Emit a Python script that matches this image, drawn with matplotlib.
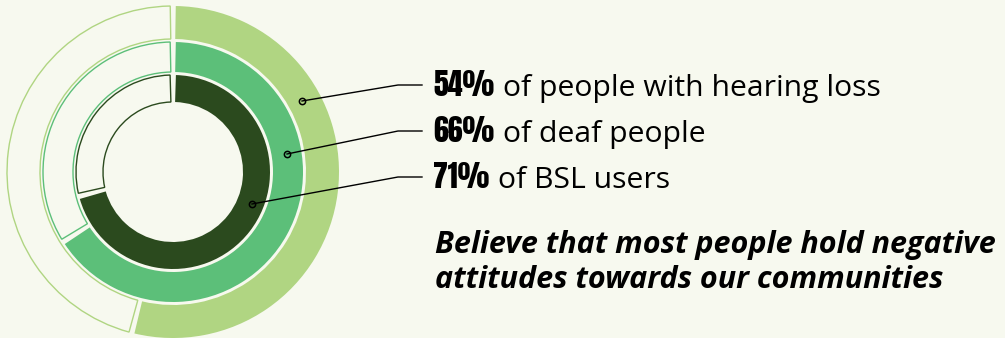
import numpy as np
import matplotlib.pyplot as plt

# ring values (percent agreeing), outer -> inner
groups = ["of people with hearing loss", "of deaf people", "of BSL users"]
percents = [54, 66, 71]
ring_colors = ["#b0d582", "#5cbf79", "#2b4a1e"]
caption_lines = ["Believe that most people hold negative",
                 "attitudes towards our communities"]

BG = "#f7f9ef"
CX, CY = 173, 172            # ring centre (pixels, y down)
radii = [166, 130, 97]
widths = [33, 30, 27]
dots = [(302, 101), (287, 154), (252, 204)]
text_y = [96, 142, 188]      # baselines
caption_y = [253, 288]


def main():
    fig = plt.figure(figsize=(10.05, 3.38), dpi=100, facecolor=BG)
    ax = fig.add_axes([0, 0, 1, 1])
    ax.set_facecolor(BG)

    for pct, col, r, w in zip(percents, ring_colors, radii, widths):
        wedges, _ = ax.pie([pct, 100 - pct], radius=r, center=(CX, CY),
                           startangle=270, counterclock=True,
                           wedgeprops=dict(width=w, linewidth=0))
        gap = np.degrees(2.5 / (r - w / 2))
        filled, empty = wedges
        filled.set_facecolor(col)
        filled.set_theta1(filled.theta1 + gap)
        filled.set_theta2(filled.theta2 - gap)
        empty.set_facecolor("none")
        empty.set_edgecolor(col)
        empty.set_linewidth(1.0)
        empty.set_theta1(empty.theta1 + gap)
        empty.set_theta2(empty.theta2 - gap)

    ax.set_xlim(0, 1005)
    ax.set_ylim(338, 0)
    ax.set_aspect("auto")
    ax.axis("off")

    # leader lines
    for (dx, dy), ty in zip(dots, text_y):
        ly = ty - 11
        ax.plot([dx, 398, 422], [dy, ly, ly], color="black", lw=1.0, zorder=5)
        ax.plot(dx, dy, "o", ms=4.5, mfc="none", mec="black", mew=1.1, zorder=6)

    fig.canvas.draw()
    for pct, label, ty in zip(percents, groups, text_y):
        t = ax.text(433, ty, f"{pct}%", fontsize=21.5, family="Anton",
                    va="baseline", ha="left", color="black")
        fig.canvas.draw()
        bb = t.get_window_extent()
        ax.text(bb.x1 + 9, ty, label, fontsize=21.7, family="Open Sans",
                va="baseline", ha="left", color="black")

    for line, cy in zip(caption_lines, caption_y):
        ax.text(435, cy, line, fontsize=22, family="Open Sans",
                fontweight="bold", fontstyle="italic", va="baseline",
                ha="left", color="black")

    fig.savefig("out.png", dpi=100, facecolor=BG)


if __name__ == "__main__":
    main()
